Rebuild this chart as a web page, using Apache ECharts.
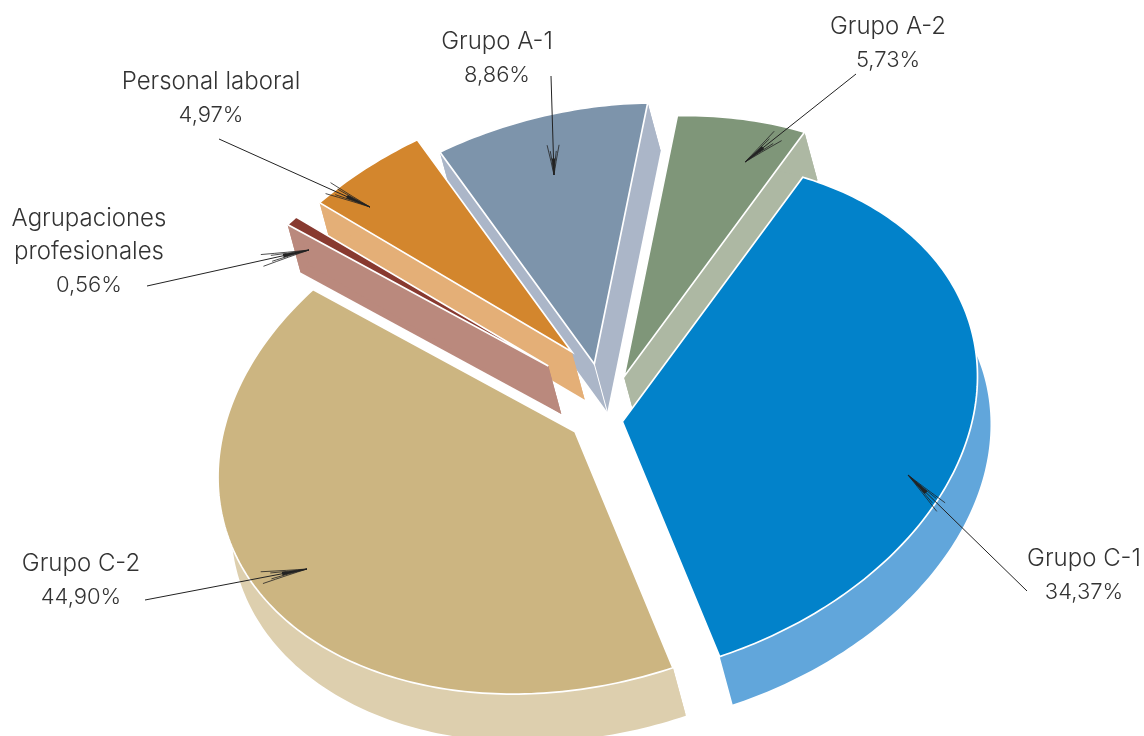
<!DOCTYPE html>
<html><head><meta charset="utf-8">
<style>html,body{margin:0;padding:0;background:#fff}#c{width:1144px;height:736px}</style>
<script src="https://cdn.jsdelivr.net/npm/echarts@6/dist/echarts.min.js"></script>
</head><body><div id="c"></div>
<script>
// Data as printed on the chart
const categories = ['Grupo A-1','Grupo A-2','Grupo C-1','Grupo C-2','Agrupaciones\nprofesionales','Personal laboral'];
const percentLabels = ['8,86%','5,73%','34,37%','44,90%','0,56%','4,97%'];
// Share of the ring each slice occupies (C-1 and C-2 are not drawn to their printed share)
const drawnShare = [9.56, 6.08, 37.1, 41.3, 0.56, 5.4];

// Styling and projection
const topColors  = ['#7D94AB','#7F9679','#0282CA','#CCB581','#883A30','#D3862D'];
const wallColors = ['#ABB6C8','#ADB8A3','#61A6DB','#DDCFAE','#BA897D','#E4AF77'];
const apexes = [[594.3,364],[624,376.7],[622.3,421.7],[575,431.7],[548.3,366],[571.7,351.7]];
const radiusScale = [1,1,1,1.005,1,1];
const showEndWall = [true,true,false,false,true,true];
const drawOrder = [0,5,4,1,3,2];
const RX = 361, RY = 253, TILT = -14.5 * Math.PI/180, START = -105.5, DEPTH = [13,48];
const labelAnchors = [[497,41.5],[888,26.5],[1084,558.5],[81,563.5],[89,218.5],[211,81.5]];
const leaderTails = [[551,76],[856,74],[1027,591],[145,600],[147,286],[219,139]];
const leaderTips  = [[554,175],[745,162],[908,475],[307,569],[309,250],[370,207]];
const headLengths = [30,42,46,46,48,46];
const LINE_H = 33.5;

const total = drawnShare.reduce((a,b)=>a+b,0);
function project(deg, k){
  const t = deg*Math.PI/180, x = k*RX*Math.cos(t), y = k*RY*Math.sin(t);
  return [x*Math.cos(TILT)-y*Math.sin(TILT), x*Math.sin(TILT)+y*Math.cos(TILT)];
}
function sliceAngles(i){
  let s = START;
  for(let k=0;k<i;k++) s += drawnShare[k]/total*360;
  return [s, s+drawnShare[i]/total*360];
}
function renderSlice(params, api){
  const i = api.value(0), [a0,a1] = sliceAngles(i), c = apexes[i];
  const arc = [];
  const n = Math.max(2, Math.ceil(a1-a0));
  for(let k=0;k<=n;k++){ const p = project(a0+(a1-a0)*k/n, radiusScale[i]); arc.push([c[0]+p[0], c[1]+p[1]]); }
  const sh = p => [p[0]+DEPTH[0], p[1]+DEPTH[1]];
  const wall = pts => ({type:'polygon', shape:{points:pts}, style:{fill:wallColors[i]}});
  const first = arc[0], last = arc[arc.length-1], low = sh(c);
  const kids = [];
  if(i !== 2) kids.push(wall([c, first, sh(first), low]));
  if(showEndWall[i]) kids.push(wall([c, last, sh(last), low]));
  kids.push(wall(arc.concat(arc.map(sh).reverse())));
  if(i === 0) kids.push({type:'line', shape:{x1:c[0],y1:c[1],x2:low[0],y2:low[1]},
    style:{stroke:'#fff', lineWidth:1}});
  kids.push({type:'polygon', shape:{points:[c].concat(arc)},
    style:{fill:topColors[i], stroke:'#fff', lineWidth:1.7, lineJoin:'miter'}});
  return {type:'group', children:kids};
}
function renderLabel(params, api){
  const i = api.value(0), a = labelAnchors[i], tail = leaderTails[i], tip = leaderTips[i];
  const color = '#222', kids = [];
  const lines = categories[i].split('\n');
  lines.forEach((t,k)=>kids.push({type:'text', style:{text:t, x:a[0], y:a[1]+k*LINE_H,
    align:'center', verticalAlign:'middle', font:'300 24px Inter, Lato, sans-serif', fill:'#333'}}));
  kids.push({type:'text', style:{text:percentLabels[i], x:a[0], y:a[1]+lines.length*LINE_H,
    align:'center', verticalAlign:'middle', font:'300 22px Inter, Lato, sans-serif', fill:'#333'}});
  kids.push({type:'line', shape:{x1:tail[0],y1:tail[1],x2:tip[0],y2:tip[1]},
    style:{stroke:color, lineWidth:1}});
  const dx = tip[0]-tail[0], dy = tip[1]-tail[1], L = Math.hypot(dx,dy), ux = dx/L, uy = dy/L;
  const at = (back,off)=>[tip[0]-ux*back-uy*off, tip[1]-uy*back+ux*off];
  const head = headLengths[i];
  [-6,-3,3,6].forEach(off=>{
    const b = at(Math.abs(off)>4 ? head : head*0.8, off), cp = at(head*0.4,off*0.35);
    kids.push({type:'bezierCurve', shape:{x1:b[0],y1:b[1],x2:tip[0],y2:tip[1],cpx1:cp[0],cpy1:cp[1]},
      style:{stroke:color, lineWidth:0.8, fill:'none'}});
  });
  kids.push({type:'polygon', shape:{points:[tip, at(head*0.55,1.8), at(head*0.55,-1.8)]}, style:{fill:color}});
  return {type:'group', children:kids};
}
const chart = echarts.init(document.getElementById('c'), null, {renderer:'canvas'});
chart.setOption({
  animation:false,
  series:[
    {type:'custom', coordinateSystem:'none', silent:true, z:2, renderItem:renderSlice,
     data:drawOrder.map(i=>[i, drawnShare[i]])},
    {type:'custom', coordinateSystem:'none', silent:true, z:5, renderItem:renderLabel,
     data:categories.map((c,i)=>[i])}
  ]
});
</script></body></html>
